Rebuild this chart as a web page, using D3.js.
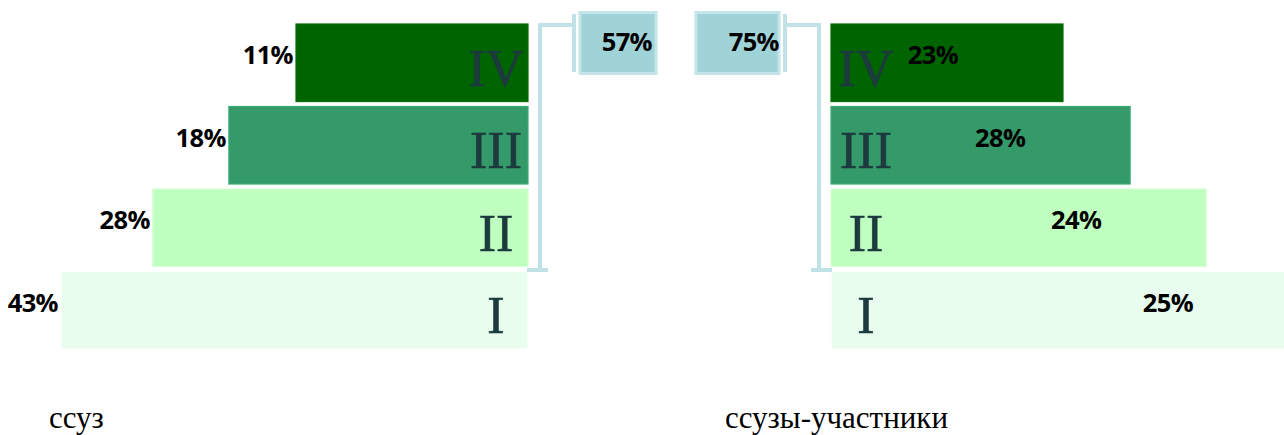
<!DOCTYPE html>
<html><head><meta charset="utf-8">
<script src="https://cdn.jsdelivr.net/npm/d3@7"></script>
<style>body{margin:0;background:#fff;overflow:hidden} svg{display:block}</style>
</head><body>
<svg id="chart" width="1284" height="435"></svg>
<script>
// ---- data ----
const levels = ["IV", "III", "II", "I"];
const ssuzValues = [11, 18, 28, 43];
const participantValues = [23, 28, 24, 25];
const groupTitles = ["ссуз", "ссузы-участники"];
const bracketLevels = ["IV", "III", "II"];
const levelColors = ["#006400", "#349a69", "#bfffbf", "#e8fdee"];

// ---- layout ----
const svg = d3.select("#chart");
const leftAnchor = 528, rightAnchor = 831;

const y = d3.scaleBand().domain(levels).range([24, 349]).paddingInner(0.06);
const bw = y.bandwidth();
// pyramid step widths (shape of the diagram, shared by both pyramids)
const w = d3.scaleSqrt().domain([d3.min(ssuzValues), d3.max(ssuzValues)]).range([232, 467]);
const color = d3.scaleOrdinal().domain(levels).range(levelColors);

const rows = levels.map((lv, i) => ({lv, i, left: ssuzValues[i], right: participantValues[i], width: w(ssuzValues[i])}));

const labelFont = "'Open Sans', Lato, sans-serif";
const labelSize = 25.5;

function drawPyramid(side) {
  const g = svg.append("g");
  const isLeft = side === "left";
  const x0 = d => isLeft ? leftAnchor - d.width : rightAnchor;
  g.selectAll("rect.bar").data(rows).join("rect")
    .attr("class", "bar")
    .attr("x", x0).attr("y", d => y(d.lv))
    .attr("width", d => d.width).attr("height", bw)
    .attr("fill", d => color(d.lv))
    .attr("stroke", d => d3.color(color(d.lv)).brighter(0.35))
    .attr("stroke-width", 1.2);
  g.selectAll("text.num").data(rows).join("text")
    .attr("class", "num")
    .attr("x", d => isLeft ? leftAnchor - 32 : rightAnchor + 35)
    .attr("y", d => y(d.lv) + 62)
    .attr("text-anchor", "middle")
    .attr("font-family", "'Liberation Serif', 'Times New Roman', serif")
    .attr("font-size", 52)
    .attr("fill", "#1d3a3e")
    .attr("stroke", "#1d3a3e").attr("stroke-width", 0.6)
    .text(d => d.lv);
  g.selectAll("text.val").data(rows).join("text")
    .attr("class", "val")
    .attr("x", d => isLeft ? leftAnchor - d.width - 3 : rightAnchor + d.width - 130)
    .attr("y", d => y(d.lv) + bw * 0.39)
    .attr("dominant-baseline", "central")
    .attr("text-anchor", isLeft ? "end" : "middle")
    .attr("font-family", labelFont)
    .attr("font-weight", 700)
    .attr("font-size", labelSize)
    .attr("letter-spacing", -0.6)
    .attr("fill", "#000")
    .text(d => (isLeft ? d.left : d.right) + "%");

  // bracket + callout
  const topY = y(bracketLevels[0]) + 1;
  const botY = y(bracketLevels[bracketLevels.length - 1]) + bw + (y.step() - bw) / 2 + 1;
  const s = isLeft ? 1 : -1;
  const a = isLeft ? leftAnchor : rightAnchor;
  const vx = a + s * 12, tx = a + s * 46;
  const lineCol = "#c0e1e6";
  const path = d3.path();
  path.moveTo(a - s * 1, botY); path.lineTo(a + s * 20, botY);
  path.moveTo(vx, botY); path.lineTo(vx, topY); path.lineTo(tx, topY);
  path.moveTo(tx, 14); path.lineTo(tx, 72);
  g.append("path").attr("d", path.toString()).attr("fill", "none")
    .attr("stroke", lineCol).attr("stroke-width", 4);
  const boxW = isLeft ? 76 : 83;
  const bx = isLeft ? a + 52 : a - 52 - boxW;
  g.append("rect").attr("x", bx).attr("y", 12.5).attr("width", boxW).attr("height", 61)
    .attr("fill", "#a0d3d7").attr("stroke", "#c3e4e8").attr("stroke-width", 3);
  const total = d3.sum(rows.filter(r => bracketLevels.includes(r.lv)), r => isLeft ? r.left : r.right);
  g.append("text")
    .attr("x", isLeft ? bx + boxW - 4 : bx + boxW)
    .attr("y", 41)
    .attr("dominant-baseline", "central")
    .attr("text-anchor", "end")
    .attr("font-family", labelFont)
    .attr("font-weight", 700)
    .attr("font-size", labelSize)
    .attr("letter-spacing", -0.6)
    .attr("fill", "#000")
    .text(total + "%");
}
drawPyramid("left");
drawPyramid("right");

svg.selectAll("text.title").data(groupTitles).join("text")
  .attr("class", "title")
  .attr("x", (d, i) => i === 0 ? 49 : 725)
  .attr("y", 428)
  .attr("font-family", "'Liberation Serif', 'Times New Roman', serif")
  .attr("font-size", 31)
  .attr("fill", "#000")
  .text(d => d);
</script>
</body></html>
